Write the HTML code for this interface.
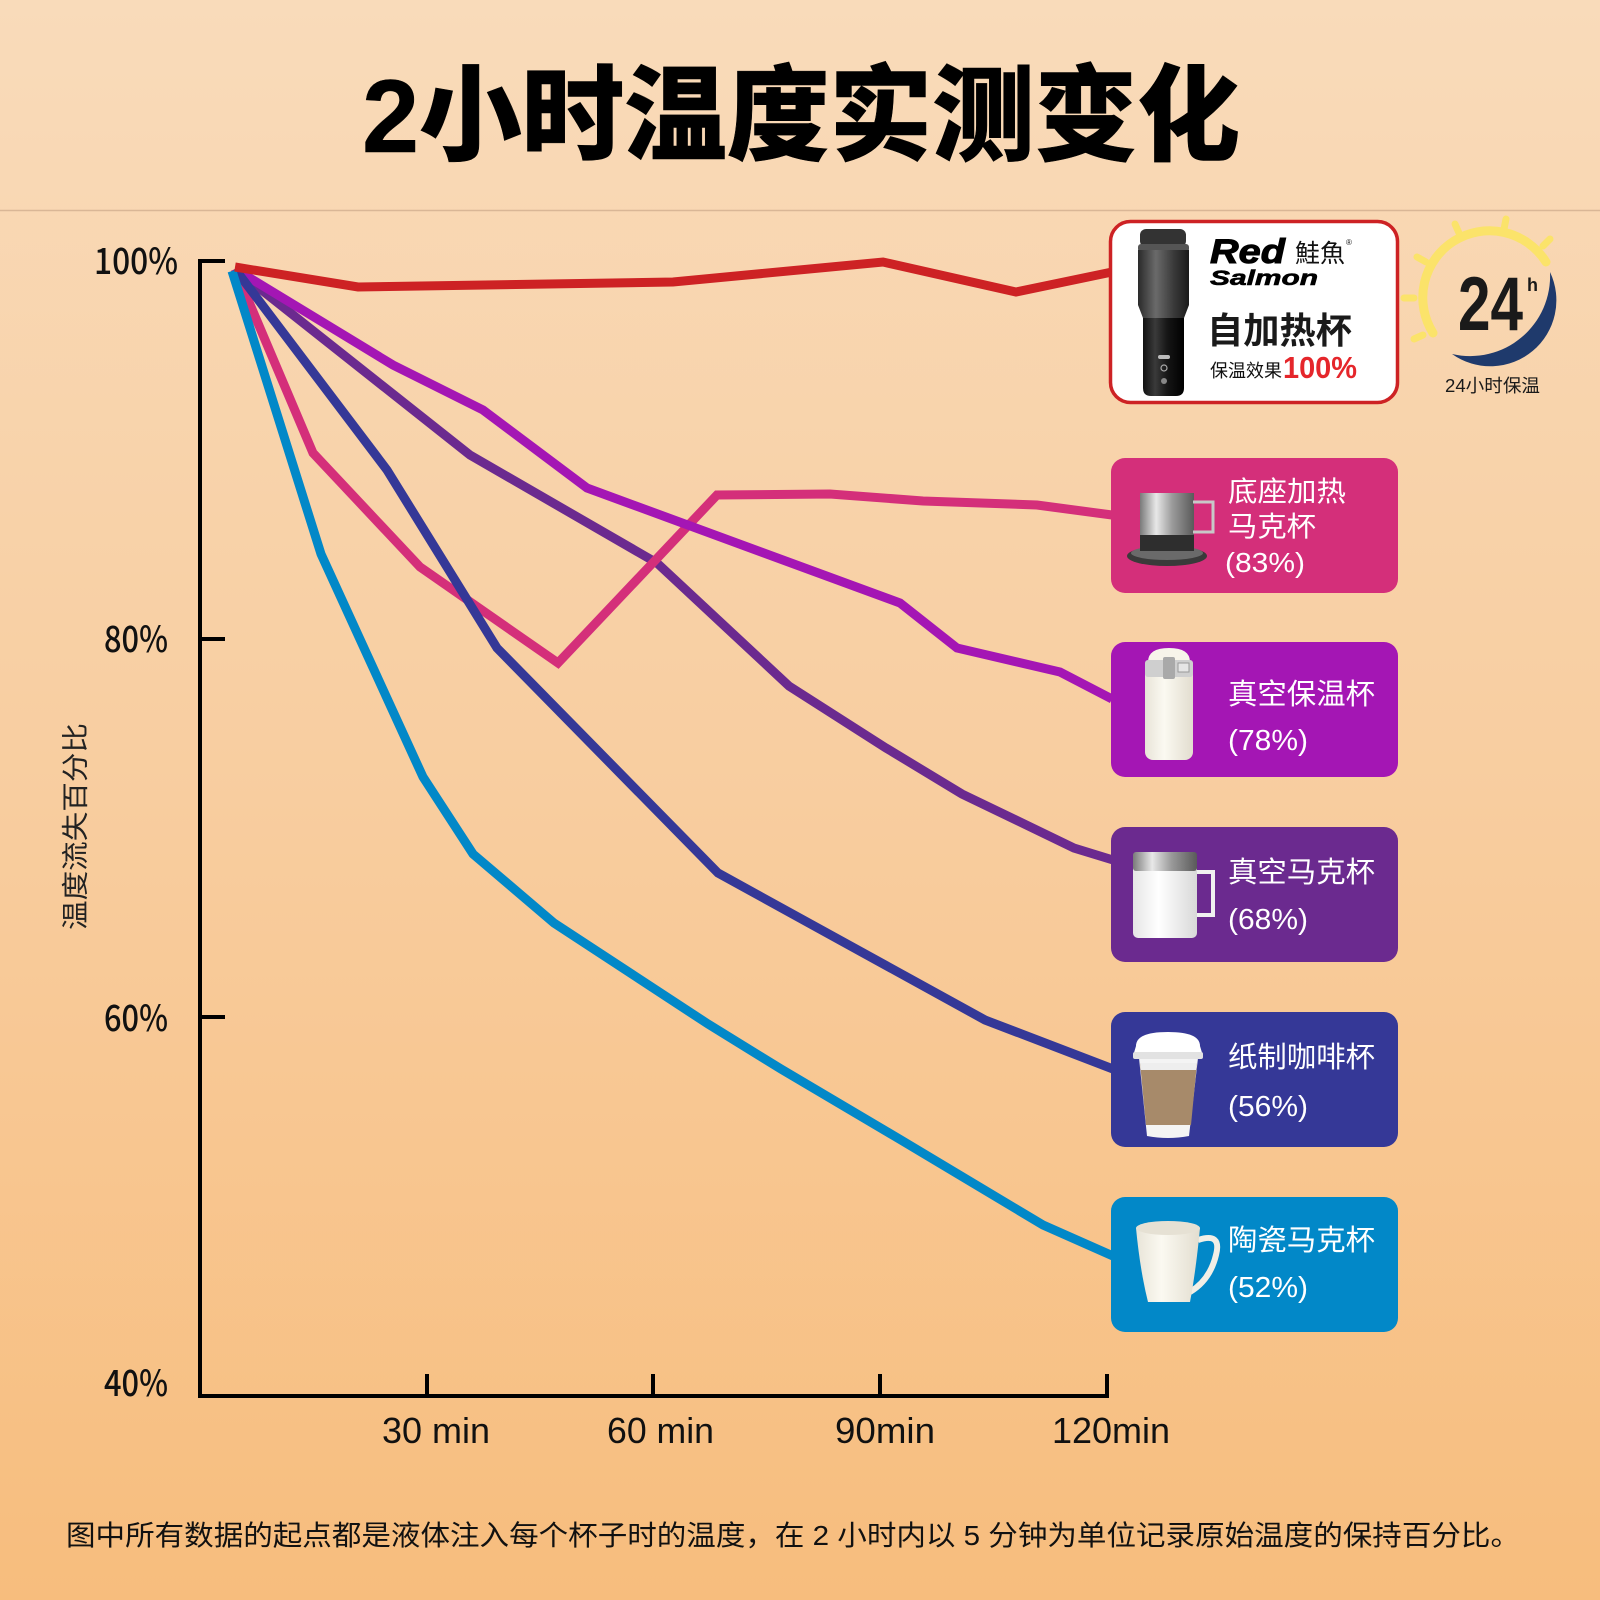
<!DOCTYPE html>
<html>
<head>
<meta charset="utf-8">
<style>
html,body{margin:0;padding:0;width:1600px;height:1600px;overflow:hidden;}
svg{display:block;}
.cjk{font-family:"Liberation Sans","Noto Sans CJK SC",sans-serif;}
</style>
</head>
<body>
<svg width="1600" height="1600" viewBox="0 0 1600 1600" xmlns="http://www.w3.org/2000/svg">
<defs>
  <linearGradient id="bg" x1="0" y1="0" x2="0" y2="1">
    <stop offset="0" stop-color="#f9dbba"/>
    <stop offset="0.5" stop-color="#f8cd9f"/>
    <stop offset="1" stop-color="#f7bd7d"/>
  </linearGradient>
  <linearGradient id="silver" x1="0" y1="0" x2="1" y2="0">
    <stop offset="0" stop-color="#7a7a7a"/>
    <stop offset="0.3" stop-color="#e8e8e8"/>
    <stop offset="0.6" stop-color="#9a9a9a"/>
    <stop offset="1" stop-color="#5a5a5a"/>
  </linearGradient>
  <linearGradient id="dark" x1="0" y1="0" x2="1" y2="0">
    <stop offset="0" stop-color="#2a2a2a"/>
    <stop offset="0.35" stop-color="#6a6a6a"/>
    <stop offset="0.7" stop-color="#3a3a3a"/>
    <stop offset="1" stop-color="#1a1a1a"/>
  </linearGradient>
  <linearGradient id="black" x1="0" y1="0" x2="1" y2="0">
    <stop offset="0" stop-color="#111"/>
    <stop offset="0.3" stop-color="#3a3a3a"/>
    <stop offset="0.6" stop-color="#151515"/>
    <stop offset="1" stop-color="#000"/>
  </linearGradient>
  <linearGradient id="white" x1="0" y1="0" x2="1" y2="0">
    <stop offset="0" stop-color="#e6e6e6"/>
    <stop offset="0.4" stop-color="#ffffff"/>
    <stop offset="1" stop-color="#d8d8d8"/>
  </linearGradient>
  <linearGradient id="cream" x1="0" y1="0" x2="1" y2="0">
    <stop offset="0" stop-color="#e8e4d8"/>
    <stop offset="0.4" stop-color="#fbf9f1"/>
    <stop offset="1" stop-color="#e2ddcf"/>
  </linearGradient>
</defs>

<!-- background -->
<rect x="0" y="0" width="1600" height="1600" fill="url(#bg)"/>
<line x1="0" y1="210.5" x2="1600" y2="210.5" stroke="#d9b696" stroke-width="1.5"/>

<!-- title -->
<text class="cjk" x="362" y="152" font-size="104" font-weight="900" fill="#000" stroke="#000" stroke-width="0.5" textLength="878" lengthAdjust="spacingAndGlyphs">2小时温度实测变化</text>

<!-- axes -->
<g stroke="#000" stroke-width="4" fill="none">
  <polyline points="225,261 200,261 200,1396 1109,1396"/>
  <line x1="200" y1="639" x2="225" y2="639"/>
  <line x1="200" y1="1017" x2="225" y2="1017"/>
  <line x1="427" y1="1374" x2="427" y2="1396"/>
  <line x1="653" y1="1374" x2="653" y2="1396"/>
  <line x1="880" y1="1374" x2="880" y2="1396"/>
  <line x1="1107" y1="1374" x2="1107" y2="1398"/>
</g>

<!-- y tick labels -->
<g font-family="'Noto Sans CJK SC', 'Liberation Sans', sans-serif" font-size="36" font-weight="500" fill="#111">
  <text x="94" y="274" textLength="84" lengthAdjust="spacingAndGlyphs">100%</text>
  <text x="104" y="652" textLength="64" lengthAdjust="spacingAndGlyphs">80%</text>
  <text x="104" y="1031" textLength="64" lengthAdjust="spacingAndGlyphs">60%</text>
  <text x="104" y="1396" textLength="64" lengthAdjust="spacingAndGlyphs">40%</text>
</g>
<!-- x tick labels -->
<g font-family="'Liberation Sans', sans-serif" font-size="36" fill="#111">
  <text x="382" y="1443" textLength="108" lengthAdjust="spacingAndGlyphs">30 min</text>
  <text x="607" y="1443" textLength="107" lengthAdjust="spacingAndGlyphs">60 min</text>
  <text x="835" y="1443" textLength="100" lengthAdjust="spacingAndGlyphs">90min</text>
  <text x="1052" y="1443" textLength="118" lengthAdjust="spacingAndGlyphs">120min</text>
</g>

<!-- y axis title -->
<text class="cjk" transform="translate(85,930) rotate(-90)" x="0" y="0" font-size="27" fill="#222" textLength="207" lengthAdjust="spacingAndGlyphs">温度流失百分比</text>

<!-- series -->
<g fill="none" stroke-width="9" stroke-linejoin="miter" stroke-miterlimit="10">
  <polyline stroke="#6b2a8f" points="235,269 470,455 657,563 789,686 886,748 962,794 1074,848 1113,860"/>
  <polyline stroke="#d42f7a" points="235,269 313,453 420,567 558,663 717,495 830,494 923,501 1037,505 1112,515"/>
  <polyline stroke="#a416b4" points="235,269 393,365 483,410 587,488 900,603 957,648 1060,672 1112,699"/>
  <polyline stroke="#353897" points="235,269 387,470 497,648 718,873 985,1020 1113,1069"/>
  <polyline stroke="#0288c8" points="232,271 321,554 423,777 473,854 554,923 708,1024 781,1069 901,1140 1043,1225 1113,1256"/>
  <polyline stroke="#cd2224" points="235,267 358,287 673,282 883,262 1016,292 1112,272"/>
</g>

<!-- Red Salmon box -->
<rect x="1110.5" y="221.5" width="287" height="181" rx="20" ry="20" fill="#ffffff" stroke="#cd2224" stroke-width="3.5"/>
<!-- tumbler -->
<g>
  <rect x="1140" y="229" width="46" height="18" rx="6" fill="#333"/>
  <rect x="1138" y="244" width="51" height="8" rx="3" fill="#555"/>
  <path d="M1138,250 L1189,250 L1189,305 L1184,318 L1143,318 L1138,305 Z" fill="url(#dark)"/>
  <path d="M1143,318 L1184,318 L1184,388 Q1184,396 1176,396 L1151,396 Q1143,396 1143,388 Z" fill="url(#black)"/>
  <rect x="1158" y="355" width="12" height="4" rx="2" fill="#bbb"/>
  <circle cx="1164" cy="368" r="3" fill="none" stroke="#aaa" stroke-width="1.2"/>
  <circle cx="1164" cy="381" r="3" fill="#888"/>
</g>
<text x="1210" y="263" font-family="'Liberation Sans', sans-serif" font-size="34" font-weight="bold" font-style="italic" fill="#000" stroke="#000" stroke-width="1" textLength="75" lengthAdjust="spacingAndGlyphs">Red</text>
<text class="cjk" x="1295" y="262" font-size="25" fill="#111" textLength="50" lengthAdjust="spacingAndGlyphs">鮭魚</text>
<text x="1346" y="245" font-family="'Liberation Sans', sans-serif" font-size="8" fill="#111">®</text>
<text x="1210" y="285" font-family="'Liberation Sans', sans-serif" font-size="21" font-weight="bold" font-style="italic" fill="#000" stroke="#000" stroke-width="0.6" textLength="108" lengthAdjust="spacingAndGlyphs">Salmon</text>
<text class="cjk" x="1207" y="343" font-size="36" font-weight="bold" fill="#1a1a1a" textLength="145" lengthAdjust="spacingAndGlyphs">自加热杯</text>
<text class="cjk" x="1210" y="377" font-size="18" fill="#111" textLength="72" lengthAdjust="spacingAndGlyphs">保温效果</text>
<text x="1283" y="378" font-family="'Liberation Sans', sans-serif" font-size="31" font-weight="bold" fill="#e5262b" textLength="74" lengthAdjust="spacingAndGlyphs">100%</text>

<!-- 24h badge -->
<g>
  <path d="M1433,333 A65,65 0 1,1 1546,262" fill="none" stroke="#fbe36a" stroke-width="9" stroke-linecap="round"/>
  <path d="M1550,272 A66,66 0 0,1 1452,354 A80,80 0 0,0 1550,272 Z" fill="#1f3a6c"/>
  <g stroke="#fbe36a" stroke-width="7" stroke-linecap="round">
    <line x1="1459" y1="233" x2="1455" y2="224"/>
    <line x1="1504" y1="229" x2="1506" y2="219"/>
    <line x1="1543" y1="246" x2="1550" y2="239"/>
    <line x1="1426" y1="262" x2="1417" y2="257"/>
    <line x1="1414" y1="298" x2="1404" y2="298"/>
    <line x1="1423" y1="335" x2="1414" y2="339"/>
  </g>
  <text x="1458" y="330" font-family="'Liberation Sans', sans-serif" font-size="76" font-weight="bold" fill="#1a1a1a" textLength="65" lengthAdjust="spacingAndGlyphs">24</text>
  <text x="1527" y="291" font-family="'Liberation Sans', sans-serif" font-size="18" font-weight="bold" fill="#1a1a1a">h</text>
  <text class="cjk" x="1445" y="392" font-size="18" fill="#1a1a1a" textLength="95" lengthAdjust="spacingAndGlyphs">24小时保温</text>
</g>

<!-- pink box -->
<rect x="1111" y="458" width="287" height="135" rx="14" ry="14" fill="#d42f7a"/>
<g>
  <ellipse cx="1167" cy="556" rx="40" ry="10" fill="#3a3a3a"/>
  <ellipse cx="1167" cy="553" rx="36" ry="7" fill="#6a6a6a"/>
  <rect x="1140" y="493" width="54" height="46" fill="url(#silver)"/>
  <rect x="1140" y="535" width="54" height="16" fill="#2e2e2e"/>
  <path d="M1193,502 L1213,502 L1213,532 L1193,532" fill="none" stroke="#c8c8c8" stroke-width="3"/>
</g>
<g class="cjk" fill="#ffffff" font-size="28">
  <text x="1228" y="501" textLength="118" lengthAdjust="spacingAndGlyphs">底座加热</text>
  <text x="1228" y="536" textLength="88" lengthAdjust="spacingAndGlyphs">马克杯</text>
  <text x="1225" y="572" textLength="80" lengthAdjust="spacingAndGlyphs">(83%)</text>
</g>

<!-- magenta box -->
<rect x="1111" y="642" width="287" height="135" rx="14" ry="14" fill="#a416b4"/>
<g>
  <rect x="1145" y="660" width="48" height="100" rx="8" fill="url(#cream)"/>
  <path d="M1148,662 Q1148,648 1169,648 Q1190,648 1190,662 Z" fill="#f7f4ea"/>
  <rect x="1145" y="660" width="48" height="17" rx="3" fill="#cfcfcf"/>
  <rect x="1163" y="657" width="12" height="22" rx="2" fill="#a9a9a9"/>
  <rect x="1178" y="663" width="11" height="9" fill="#e5e5e5" stroke="#999" stroke-width="1"/>
</g>
<g class="cjk" fill="#ffffff" font-size="29">
  <text x="1228" y="704" textLength="147" lengthAdjust="spacingAndGlyphs">真空保温杯</text>
  <text x="1228" y="750" textLength="80" lengthAdjust="spacingAndGlyphs">(78%)</text>
</g>

<!-- dark purple box -->
<rect x="1111" y="827" width="287" height="135" rx="14" ry="14" fill="#6b2a8f"/>
<g>
  <path d="M1197,872 L1213,872 L1213,915 L1197,915" fill="none" stroke="#f0f0f0" stroke-width="4"/>
  <rect x="1133" y="856" width="64" height="82" rx="5" fill="url(#white)"/>
  <rect x="1133" y="852" width="64" height="19" rx="3" fill="url(#silver)"/>
</g>
<g class="cjk" fill="#ffffff" font-size="29">
  <text x="1228" y="882" textLength="147" lengthAdjust="spacingAndGlyphs">真空马克杯</text>
  <text x="1228" y="929" textLength="80" lengthAdjust="spacingAndGlyphs">(68%)</text>
</g>

<!-- navy box -->
<rect x="1111" y="1012" width="287" height="135" rx="14" ry="14" fill="#353897"/>
<g>
  <path d="M1139,1058 L1198,1058 L1189,1136 Q1168,1140 1147,1136 Z" fill="#f4f4f4"/>
  <path d="M1140,1063 L1197,1063 L1191,1125 L1146,1125 Z" fill="#a78a6a"/>
  <path d="M1140,1063 L1197,1063 L1196,1070 L1141,1070 Z" fill="#eeeeee"/>
  <path d="M1136,1046 Q1136,1032 1168,1032 Q1200,1032 1200,1046 L1203,1056 L1133,1056 Z" fill="#ffffff"/>
  <rect x="1133" y="1052" width="70" height="7" rx="2" fill="#e2e2e2"/>
</g>
<g class="cjk" fill="#ffffff" font-size="29">
  <text x="1228" y="1067" textLength="147" lengthAdjust="spacingAndGlyphs">纸制咖啡杯</text>
  <text x="1228" y="1116" textLength="80" lengthAdjust="spacingAndGlyphs">(56%)</text>
</g>

<!-- blue box -->
<rect x="1111" y="1197" width="287" height="135" rx="14" ry="14" fill="#0288c8"/>
<g>
  <path d="M1198,1240 Q1222,1232 1216,1255 Q1210,1280 1190,1292" fill="none" stroke="#f2efe6" stroke-width="6"/>
  <path d="M1136,1228 L1200,1228 Q1196,1270 1190,1302 L1148,1302 Q1140,1270 1136,1228 Z" fill="url(#cream)"/>
  <ellipse cx="1168" cy="1228" rx="32" ry="7" fill="#e6e1d4"/>
</g>
<g class="cjk" fill="#ffffff" font-size="29">
  <text x="1228" y="1250" textLength="147" lengthAdjust="spacingAndGlyphs">陶瓷马克杯</text>
  <text x="1228" y="1297" textLength="80" lengthAdjust="spacingAndGlyphs">(52%)</text>
</g>

<!-- footnote -->
<text class="cjk" x="66" y="1545" font-size="28" fill="#111" textLength="1454" lengthAdjust="spacingAndGlyphs">图中所有数据的起点都是液体注入每个杯子时的温度，在 2 小时内以 5 分钟为单位记录原始温度的保持百分比。</text>
</svg>
</body>
</html>
